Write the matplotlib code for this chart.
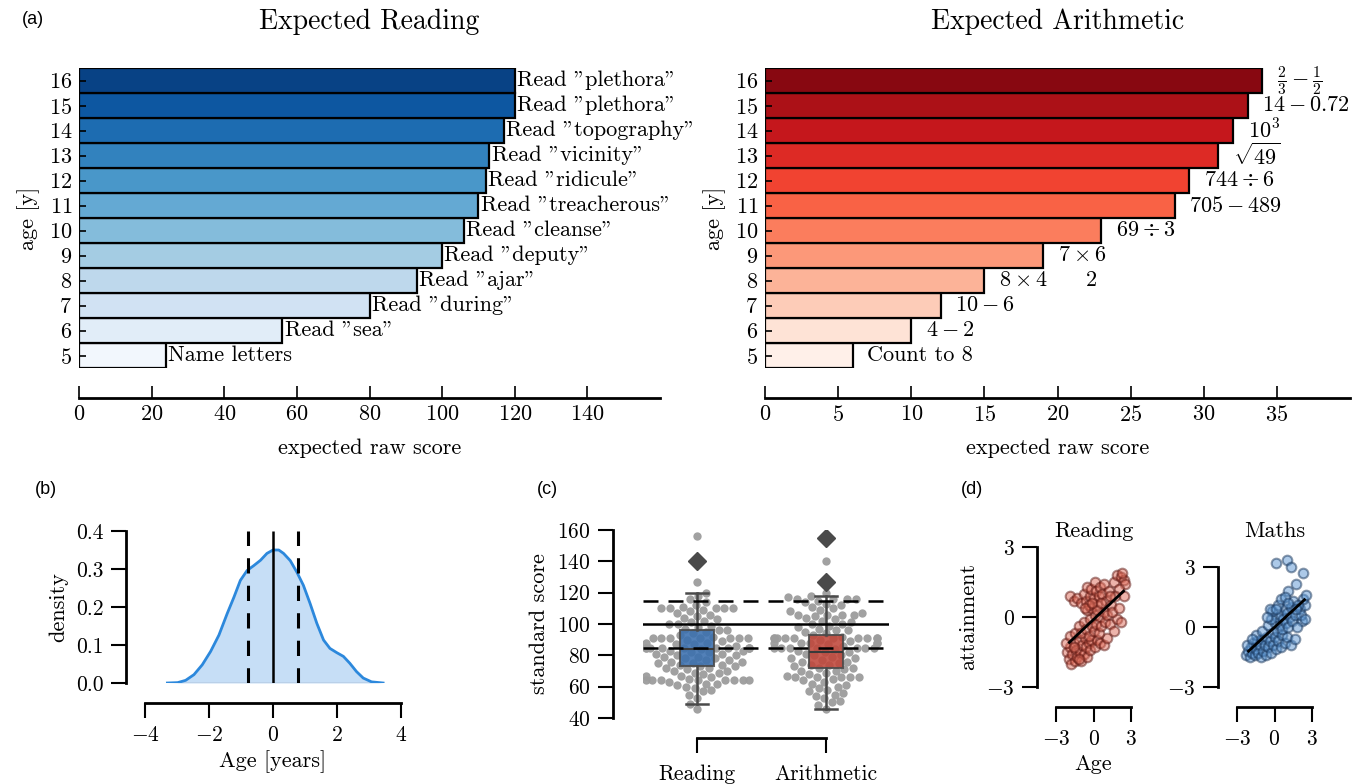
import numpy as np
import matplotlib
matplotlib.use("Agg")
import matplotlib.pyplot as plt
import seaborn as sns

plt.rcParams['font.family'] = ['cmr10', 'DejaVu Serif']
plt.rcParams['mathtext.fontset'] = 'cm'
plt.rcParams['axes.formatter.use_mathtext'] = True

# ---- (a) expected raw scores per age
ages = [5, 6, 7, 8, 9, 10, 11, 12, 13, 14, 15, 16]
reading_expected = [24, 56, 80, 93, 100, 106, 110, 112, 113, 117, 120, 120]
reading_items = ['Name letters', 'Read "sea"', 'Read "during"', 'Read "ajar"',
                 'Read "deputy"', 'Read "cleanse"', 'Read "treacherous"',
                 'Read "ridicule"', 'Read "vicinity"', 'Read "topography"',
                 'Read "plethora"', 'Read "plethora"']
arith_expected = [6, 10, 12, 15, 19, 23, 28, 29, 31, 32, 33, 34]
arith_items = ['Count to 8', r'$4-2$', r'$10-6$', r'$8\times4\qquad 2$', r'$7\times6$',
               r'$69\div3$', r'$705-489$', r'$744\div6$', r'$\sqrt{49}$', r'$10^3$',
               r'$14-0.72$', r'$\frac{2}{3}-\frac{1}{2}$']

# ---- (b) age density
kde_age = [-3.30, -2.98, -2.73, -2.47, -2.21, -1.95, -1.69, -1.43, -1.22, -1.02, -0.81,
           -0.60, -0.39, -0.19, 0.00, 0.18, 0.33, 0.54, 0.75, 0.95, 1.16, 1.37, 1.58,
           1.78, 1.99, 2.20, 2.40, 2.61, 2.82, 3.08, 3.44]
kde_density = [0.000, 0.001, 0.007, 0.022, 0.048, 0.083, 0.126, 0.183, 0.226, 0.270, 0.296,
               0.309, 0.323, 0.341, 0.350, 0.350, 0.341, 0.322, 0.291, 0.257, 0.209, 0.157,
               0.113, 0.091, 0.080, 0.070, 0.052, 0.030, 0.013, 0.003, 0.000]
age_mean = 0.0
age_sd_lines = [-0.77, 0.77]

# ---- (c) standard scores
reading_std = [46, 49, 53, 55, 57, 58, 59, 60, 61, 62, 62, 63,
               64, 64, 64, 64, 64, 64, 64, 64,
               65, 66, 67, 67, 68, 69, 69, 70, 70, 71, 72, 72, 73, 73, 74, 74, 75, 75, 76,
               76, 77, 77, 78, 78, 79, 79, 80, 80, 81, 81, 82, 82, 83, 83, 84,
               85, 85, 85, 85, 85, 85, 85, 85, 85, 85,
               86, 87, 87, 88, 88, 89, 90,
               91, 91, 91, 91, 91, 91, 91,
               92, 93, 94, 95, 96, 96, 97, 98, 99, 100, 100, 101, 102, 103, 104, 105, 106,
               107, 108, 109,
               110, 110, 110, 110, 110,
               111, 112, 114, 116, 118, 120, 127, 140, 156]
arith_std = [46, 48, 50, 51, 53, 54, 55, 56, 57, 58, 59, 60, 61, 62, 63, 64,
             65, 66, 66, 66, 66, 66, 67, 68, 69, 70, 70, 71, 72, 72, 73, 74, 74, 75, 76, 76,
             77, 78, 78, 79, 80, 80, 81, 82, 82, 83, 84,
             85, 85, 85, 85, 85, 85, 85,
             86, 87, 88, 88, 88, 88, 88, 89, 90,
             91, 91, 91, 91, 91, 91, 91, 91, 91, 91,
             92, 93, 94, 95, 96, 96, 97, 98, 99, 100, 100, 101, 102, 103, 104, 105, 106, 106,
             106, 106, 107, 108, 109, 110, 111, 112,
             113, 114, 115, 116, 116, 116, 116, 117, 118, 120, 127, 140, 155]
box_stats = [dict(med=84, q1=73, q3=96, whislo=49, whishi=120, fliers=[140]),
             dict(med=82, q1=72, q3=93, whislo=46, whishi=118, fliers=[127, 155])]
norm_mean = 100
norm_band = [85, 115]

# ---- (d) attainment vs age (z-scores)
read_age = [-2.1, -2.0, -1.9, -1.8, -1.7, -1.6, -1.5, -1.4, -1.3, -1.2, -1.1, -1.0, -0.9, -0.8,
            -0.7, -0.6, -0.5, -0.4, -0.3, -2.2, -1.9, -1.5, -0.2, 0.1, 0.3, 0.5, 0.8, 1.1, -1.6,
            -1.2, -1.2, -1.0, -0.8, -0.6, -0.4, -0.3, -0.1, 0.0, 0.1, 0.2, 0.4, 0.5, 0.6, 0.8,
            0.9, 1.1, 1.3, -0.5, -0.2, 0.3, -1.9, -1.6, -1.3, -1.0, -0.8, -0.6, -0.5, -0.3,
            -0.2, 0.0, 0.1, 0.2, 0.4, 0.5, 0.7, 0.8, 1.0, 1.2, -0.4, 0.3, -0.7, -0.1, 0.6, 1.4,
            1.6, 1.9, 2.2, 2.4, 2.5, 2.3, 2.0, 1.7, 2.4, 1.9, 2.2, 1.5, 1.6, 2.0, 1.3]
read_att = [-1.5, -1.8, -1.3, -2.0, -1.6, -1.1, -1.9, -1.4, -1.7, -1.0, -1.5, -1.9, -1.2, -1.6,
            -0.9, -1.3, -1.7, -1.1, -1.4, -1.1, -0.8, -0.7, -1.0, -1.3, -1.0, -1.1, -1.2, -0.9,
            -1.3, -1.8, -0.4, -0.7, -0.2, -0.5, -0.8, -0.1, -0.4, -0.6, 0.1, -0.3, -0.7, 0.0,
            -0.4, 0.2, -0.2, 0.1, -0.3, 0.3, 0.4, 0.5, 0.9, 0.7, 0.8, 0.6, 1.0, 0.7, 1.3, 0.9,
            1.2, 0.8, 1.5, 1.1, 0.9, 1.3, 1.0, 1.4, 0.7, 1.1, 0.5, 0.3, 0.4, 0.6, 0.6, 0.5,
            1.5, 1.8, 1.7, 1.6, 1.4, 1.9, 1.2, 0.9, 0.9, -0.1, -0.2, 0.2, -0.6, 0.4, 0.9]
math_age = [0.1, 1.0, 1.3, 2.3, 1.7, 1.1, -2.3, -2.1, -2.0, -1.9, -1.8, -1.7, -1.6, -1.5, -1.4,
            -1.3, -1.2, -1.1, -1.0, -0.9, -0.8, -0.7, -0.6, -0.5, -0.4, -0.3, -0.2, -0.1, 0.0,
            0.1, 0.2, 0.3, 0.5, 0.6, 0.8, 1.0, 1.3, -1.5, -1.0, -0.5, -2.2, -1.8, 0.0, 0.2,
            0.4, 0.5, 0.6, 0.7, 0.8, 0.9, 1.0, 1.1, 1.2, 1.3, 1.4, 1.5, 1.6, -0.3, -0.2, -0.4,
            -0.6, 0.3, 0.1, 0.5, 0.8, 1.1, 2.0, 2.2, 2.1, 2.4, 2.3, 2.5, 1.9, 1.8, 1.6, 2.4, 1.7]
math_att = [3.2, 3.35, 3.0, 2.7, 2.15, 1.8, -1.4, -1.2, -1.5, -1.0, -1.3, -0.8, -1.4, -1.1,
            -0.7, -1.3, -0.9, -1.5, -0.6, -1.2, -0.9, -1.4, -0.5, -1.0, -0.7, -1.3, -0.3,
            -0.9, -0.5, -1.1, -0.2, -0.7, -1.0, -0.4, -0.8, -0.5, -0.9, -0.4, -0.2, 0.1, -0.9,
            -0.6, 0.2, 0.5, 0.1, 0.6, -0.1, 0.4, 0.9, 0.2, 0.7, 0.0, 0.5, 1.0, 0.3, 1.3, 0.6,
            0.4, 0.8, 0.9, 0.5, 1.1, 0.9, 1.4, 1.5, 1.2, 0.9, 0.3, 0.6, 1.1, 1.4, 1.6, 1.1,
            0.0, -0.6, 0.4, 0.9]

W, H = 1363, 784
fig = plt.figure(figsize=(W / 100, H / 100), dpi=100)
PT = 0.72  # points per pixel


def px_axes(x0, y0, x1, y1):
    return fig.add_axes([x0 / W, 1 - y1 / H, (x1 - x0) / W, (y1 - y0) / H])


def offset_spines(ax, left, bottom, lw=2.0):
    ax.spines['top'].set_visible(False)
    ax.spines['right'].set_visible(False)
    ax.spines['left'].set_position(('outward', left * PT))
    ax.spines['bottom'].set_position(('outward', bottom * PT))
    ax.spines['left'].set_linewidth(lw)
    ax.spines['bottom'].set_linewidth(lw)


def bar_panel(ax, values, items, cmap, xmax, step, off, title):
    colors = cmap(np.linspace(0.03, 0.93, len(ages)))
    ax.barh(ages, values, height=1.0, color=colors, edgecolor='black', linewidth=1.6)
    for a, v, t in zip(ages, values, items):
        ax.text(v + off, a, t, va='center', ha='left', fontsize=16, clip_on=False)
    ax.set_xlim(0, xmax)
    ax.set_ylim(4.5, 16.5)
    ax.set_xticks(np.arange(0, xmax, step))
    ax.set_yticks(ages)
    offset_spines(ax, 0, 30)
    ax.spines['left'].set_visible(False)
    ax.tick_params(axis='x', direction='in', length=9, width=1.2, labelsize=16, pad=5)
    ax.tick_params(axis='y', direction='in', length=5, width=1.2, labelsize=16, pad=5)
    ax.set_xlabel('expected raw score', fontsize=16, labelpad=10)
    ax.set_ylabel('age [y]', fontsize=16, labelpad=6)
    ax.set_title(title, fontsize=20, pad=28)


ax_r = px_axes(79, 68, 660, 368)
bar_panel(ax_r, reading_expected, reading_items, plt.cm.Blues, 160, 20, 0.6, 'Expected Reading')
ax_m = px_axes(765, 68, 1350, 368)
bar_panel(ax_m, arith_expected, arith_items, plt.cm.Reds, 40, 5, 1.0, 'Expected Arithmetic')

# ---- (b)
ax_b = px_axes(145, 531, 401, 683)
ax_b.fill_between(kde_age, kde_density, color='#c6def6', lw=0)
ax_b.plot(kde_age, np.zeros(len(kde_age)), color='#8a9bb0', lw=1)
ax_b.plot(kde_age, kde_density, color='#2c88dc', lw=2)
ax_b.vlines(age_mean, 0, 0.4, color='black', lw=1.8)
ax_b.vlines(age_sd_lines, 0, 0.4, color='black', lw=2.2, linestyles=(0, (5, 4)))
ax_b.set_xlim(-4, 4)
ax_b.set_ylim(0, 0.4)
ax_b.set_xticks([-4, -2, 0, 2, 4])
ax_b.set_yticks([0, 0.1, 0.2, 0.3, 0.4])
ax_b.set_yticklabels(['0.0', '0.1', '0.2', '0.3', '0.4'])
offset_spines(ax_b, 19, 20)
ax_b.spines['left'].set_bounds(0, 0.4)
ax_b.tick_params(direction='out', length=11, width=1.5, labelsize=15.5, pad=5)
ax_b.set_xlabel('Age [years]', fontsize=16, labelpad=4)
ax_b.set_ylabel('density', fontsize=16, labelpad=6)

# ---- (c)
ax_c = px_axes(643, 530, 889, 718)
cats = ['Reading'] * len(reading_std) + ['Arithmetic'] * len(arith_std)
sns.swarmplot(x=cats, y=reading_std + arith_std, ax=ax_c, color='#9c9c9c', size=6.0,
              alpha=0.95, zorder=1)
bp = ax_c.bxp(box_stats, positions=[0, 1], widths=0.26, capwidths=0.17, patch_artist=True,
              manage_ticks=False, zorder=3,
              boxprops=dict(edgecolor='#4a4a4a', linewidth=1.5),
              whiskerprops=dict(color='#4a4a4a', linewidth=1.8),
              capprops=dict(color='#4a4a4a', linewidth=1.8),
              medianprops=dict(color='#3a3a3a', linewidth=1.5),
              flierprops=dict(marker='D', markersize=9, markerfacecolor='#4a4a4a',
                              markeredgecolor='#4a4a4a'))
for patch, c in zip(bp['boxes'], ['#3a6fae', '#c0463a']):
    patch.set_facecolor(c)
    patch.set_alpha(0.88)
ax_c.axhline(norm_mean, color='black', lw=1.8, zorder=4)
for v in norm_band:
    ax_c.axhline(v, color='black', lw=1.8, ls=(0, (6, 4)), zorder=4)
ax_c.set_xlim(-0.42, 1.49)
ax_c.set_ylim(40, 160)
ax_c.set_yticks([40, 60, 80, 100, 120, 140, 160])
ax_c.set_xticks([0, 1])
ax_c.set_xticklabels(['Reading', 'Arithmetic'])
offset_spines(ax_c, 30, 20)
ax_c.spines['bottom'].set_bounds(0, 1)
ax_c.tick_params(direction='out', length=11, width=1.5, labelsize=15.5, pad=5)
ax_c.tick_params(axis='x', pad=8)
ax_c.set_xlabel('')
ax_c.set_ylabel('standard score', fontsize=16, labelpad=6)

# ---- (d)
ax_d1 = px_axes(1056, 547, 1131, 687)
ax_d2 = px_axes(1237, 567, 1312, 687)
for ax, xs, ys, fc, ec, title, tpad in [
        (ax_d1, read_age, read_att, '#dc6a58', '#5c1510', 'Reading', 7),
        (ax_d2, math_age, math_att, '#5a95d2', '#173459', 'Maths', 21.5)]:
    ax.scatter(xs, ys, s=48, facecolor=fc, edgecolor=ec, linewidth=1.5, alpha=0.5,
               clip_on=False, zorder=2)
    slope, icpt = np.polyfit(xs, ys, 1)
    fx = np.array([np.percentile(xs, 3), np.percentile(xs, 98)])
    ax.plot(fx, slope * fx + icpt, color='black', lw=2, zorder=3)
    ax.set_xlim(-3, 3)
    ax.set_ylim(-3, 3)
    ax.set_xticks([-3, 0, 3])
    ax.set_yticks([-3, 0, 3])
    offset_spines(ax, 19, 20)
    ax.tick_params(direction='out', length=11, width=1.5, labelsize=15.5, pad=5)
    ax.set_title(title, fontsize=16, pad=tpad)
ax_d1.set_xlabel('Age', fontsize=16, labelpad=4)
ax_d1.set_ylabel('attainment', fontsize=16, labelpad=6)

# panel letters
for x, y, s in [(22, 20, '(a)'), (35, 490, '(b)'), (537, 490, '(c)'), (961, 490, '(d)')]:
    fig.text(x / W, 1 - y / H, s, family='Liberation Sans', fontsize=13, va='center')

fig.savefig('out.png', dpi=100)
